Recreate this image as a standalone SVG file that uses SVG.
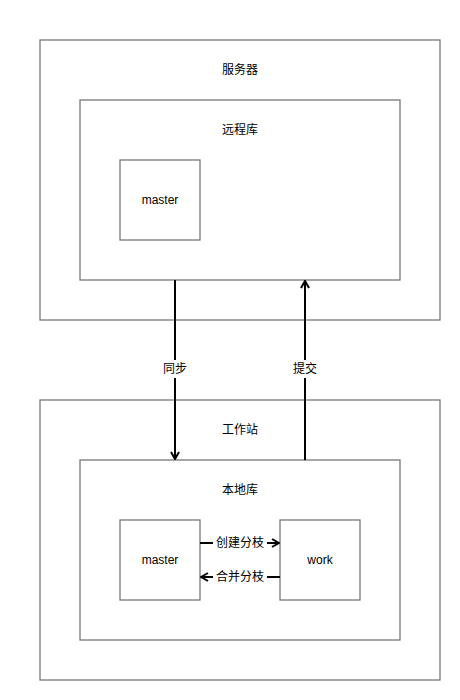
<svg xmlns="http://www.w3.org/2000/svg" width="460" height="700" viewBox="0 0 460 700">
<style>
.box{fill:#fff;stroke:#777;stroke-width:1.3}
.t{font-family:"Liberation Sans","Noto Sans CJK SC",sans-serif;font-size:12px;fill:#000;text-anchor:middle;dominant-baseline:central}
.c{stroke:#000;stroke-width:2;fill:none}
.lb{fill:#fff}
</style>
<defs>
<marker id="ah2" viewBox="0 0 10 10" refX="9" refY="5" markerWidth="10" markerHeight="10" orient="auto" markerUnits="userSpaceOnUse">
<path d="M2,1 L9,5 L2,9" fill="none" stroke="#000" stroke-width="2"/>
</marker>
</defs>
<rect width="460" height="700" fill="#fff"/>
<g id="server"><rect class="box" x="40" y="40" width="400" height="280"/><text class="t" x="240" y="70">服务器</text></g>
<g id="remote"><rect class="box" x="80" y="100" width="320" height="180"/><text class="t" x="240" y="130">远程库</text></g>
<g id="remote-master"><rect class="box" x="120" y="160" width="80" height="80"/><text class="t" x="160" y="200">master</text></g>
<g id="workstation"><rect class="box" x="40" y="400" width="400" height="280"/><text class="t" x="240" y="430">工作站</text></g>
<g id="local"><rect class="box" x="80" y="460" width="320" height="180"/><text class="t" x="240" y="490">本地库</text></g>
<g id="local-master"><rect class="box" x="120" y="520" width="80" height="80"/><text class="t" x="160" y="560">master</text></g>
<g id="work"><rect class="box" x="280" y="520" width="80" height="80"/><text class="t" x="320" y="560">work</text></g>
<g id="connectors">
<line class="c" x1="175" y1="280" x2="175" y2="459" marker-end="url(#ah2)"/>
<rect class="lb" x="160" y="360" width="30" height="18"/><text class="t" x="175" y="369">同步</text>
<line class="c" x1="305" y1="460" x2="305" y2="281" marker-end="url(#ah2)"/>
<rect class="lb" x="290" y="360" width="30" height="18"/><text class="t" x="305" y="369">提交</text>
<line class="c" x1="200" y1="543" x2="279" y2="543" marker-end="url(#ah2)"/>
<rect class="lb" x="213" y="534" width="54" height="18"/><text class="t" x="240" y="543">创建分枝</text>
<line class="c" x1="280" y1="577" x2="201" y2="577" marker-end="url(#ah2)"/>
<rect class="lb" x="213" y="568" width="54" height="18"/><text class="t" x="240" y="577">合并分枝</text>
</g>
</svg>
